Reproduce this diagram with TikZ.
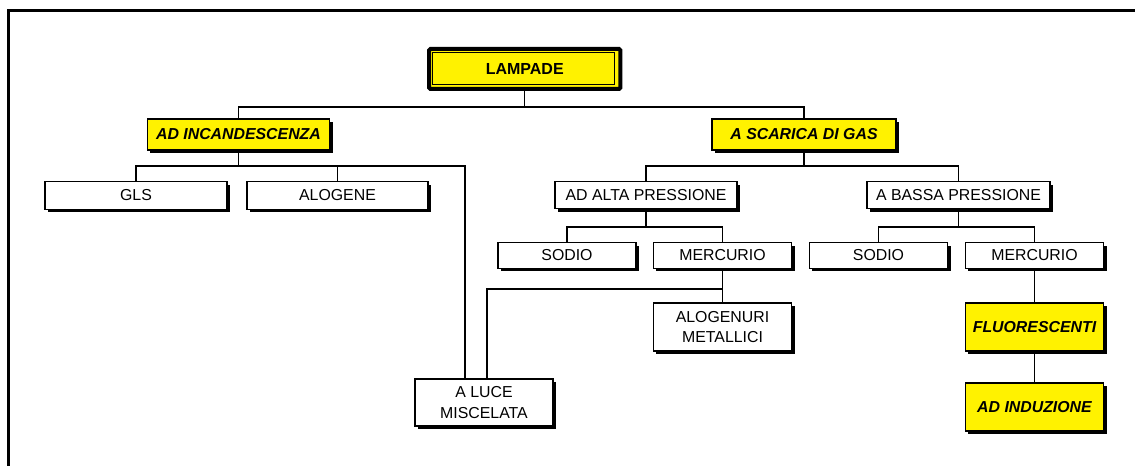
\documentclass[tikz,border=0pt]{standalone}
\usepackage{fontspec}
\setmainfont{Liberation Sans}
\usetikzlibrary{shadows}
\begin{document}
\begin{tikzpicture}[x=0.75pt,y=-0.75pt,
  conn/.style={line width=0.9pt},
  box/.style={draw, line width=0.95pt, fill=white, inner sep=0pt, align=center,
    font=\fontsize{11.9}{15.5}\selectfont,
    drop shadow={shadow xshift=2.2pt, shadow yshift=-2.4pt, fill=black, opacity=1}},
  ybox/.style={box, fill=yellow, font=\fontsize{11.9}{15.5}\selectfont\bfseries\itshape},
  wA/.style={minimum width=137pt, minimum height=23.25pt},
  wB/.style={minimum width=136.5pt, minimum height=20.5pt},
  wC/.style={minimum width=104pt, minimum height=19pt},
  wD/.style={minimum width=104pt, minimum height=36pt}
]
\useasboundingbox (0,0) rectangle (1135,466);
\clip (0,0) rectangle (1135,466);
\fill[white] (0,0) rectangle (1135,466);
% outer frame (partly outside the picture)
\draw[line width=2.25pt] (1140,11) -- (8.5,11) -- (8.5,470);

% root
\node[draw, line width=3pt, fill=yellow, outer sep=0pt, rounded corners=1pt,
      minimum width=143.6pt, minimum height=30pt,
      font=\fontsize{12}{14}\selectfont\bfseries] (lamp) at (524.75,69) {LAMPADE};
\draw[line width=0.6pt] ([shift={(3.5,3.5)}]lamp.north west) rectangle ([shift={(-6,-4.5)}]lamp.south east);

% level 1
\node[ybox, wA] (inc) at (238.5,134.5) {AD INCANDESCENZA};
\node[ybox, wA, minimum width=138pt] (gas) at (804,134.5) {A SCARICA DI GAS};

% level 2
\node[box, wB] (gls) at (136,195.5) {GLS};
\node[box, wB, minimum width=135.75pt] (alo) at (337.5,195.5) {ALOGENE};
\node[box, wB] (alta) at (646,195) {AD ALTA PRESSIONE};
\node[box, wB, minimum width=137.25pt] (bassa) at (958.5,195) {A BASSA PRESSIONE};

% level 3
\node[box, wC, minimum width=103.5pt] (sod1) at (567,255.5) {SODIO};
\node[box, wC] (mer1) at (722.5,255.5) {MERCURIO};
\node[box, wC] (sod2) at (878.5,255.5) {SODIO};
\node[box, wC] (mer2) at (1034.5,255.5) {MERCURIO};

% level 4
\node[box, wD] (alg) at (722.5,327) {ALOGENURI\\METALLICI};
\node[ybox, wD] (flu) at (1034.5,327) {FLUORESCENTI};
\node[ybox, wD] (ind) at (1034.5,407) {AD INDUZIONE};
\node[box, wD, minimum width=103.5pt, minimum height=35.25pt] (luce) at (484,402.5) {A LUCE\\MISCELATA};

% bus levels
\coordinate (b1) at (0,107);
\coordinate (b2) at (0,166);
\coordinate (b2r) at (465,166);
\coordinate (b3) at (0,227);
\coordinate (b4l) at (487,289);

% connectors
\draw[conn] (lamp.south) -- (lamp.south |- b1);
\draw[conn] (inc.north) -- (inc.north |- b1) -- (gas.north |- b1) -- (gas.north);

\draw[conn] (inc.south) -- (inc.south |- b2);
\draw[conn] (gls.north) -- (gls.north |- b2) -- (b2r) -- (b2r |- luce.north);
\draw[conn] (alo.north) -- (alo.north |- b2);

\draw[conn] (gas.south) -- (gas.south |- b2);
\draw[conn] (alta.north) -- (alta.north |- b2) -- (bassa.north |- b2) -- (bassa.north);

\draw[conn] (alta.south) -- (alta.south |- b3);
\draw[conn] (sod1.north) -- (sod1.north |- b3) -- (mer1.north |- b3) -- (mer1.north);
\draw[conn] (bassa.south) -- (bassa.south |- b3);
\draw[conn] (sod2.north) -- (sod2.north |- b3) -- (mer2.north |- b3) -- (mer2.north);

\draw[conn] (mer1.south) -- (alg.north);
\draw[conn] (mer1.south |- b4l) -- (b4l) -- (b4l |- luce.north);

\draw[conn] (mer2.south) -- (flu.north);
\draw[conn] (flu.south) -- (ind.north);
\end{tikzpicture}
\end{document}
